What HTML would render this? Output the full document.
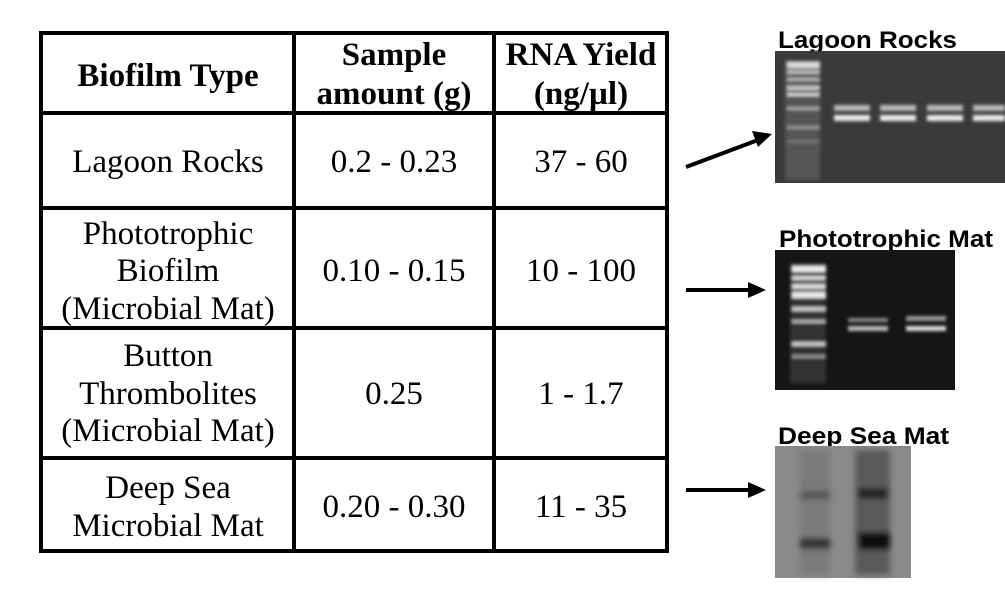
<!DOCTYPE html>
<html><head><meta charset="utf-8"><style>
html,body{margin:0;padding:0;background:#fff;}
svg{display:block}
.t{font-family:"Liberation Serif",serif;font-size:33px;fill:#000;text-anchor:middle}
.b{font-weight:bold}
.g{font-family:"Liberation Sans",sans-serif;font-weight:bold;font-size:24px;fill:#000}
</style></head><body>
<svg width="1005" height="597" viewBox="0 0 1005 597">
<defs>
<filter id="bl"><feGaussianBlur stdDeviation="1.5"/></filter>
<filter id="bl2"><feGaussianBlur stdDeviation="3"/></filter>
</defs>
<g stroke="#000" stroke-width="4" fill="none">
<rect x="41" y="33" width="626" height="518"/>
<line x1="294" y1="33" x2="294" y2="551"/>
<line x1="494" y1="33" x2="494" y2="551"/>
<line x1="41" y1="113" x2="667" y2="113"/>
<line x1="41" y1="208" x2="667" y2="208"/>
<line x1="41" y1="328" x2="667" y2="328"/>
<line x1="41" y1="458" x2="667" y2="458"/>
</g>
<text class="t b" x="168" y="86">Biofilm Type</text>
<text class="t b" x="394" y="65">Sample</text>
<text class="t b" x="394" y="104">amount (g)</text>
<text class="t b" x="581" y="65">RNA Yield</text>
<text class="t b" x="581" y="104">(ng/µl)</text>

<text class="t" x="168" y="172">Lagoon Rocks</text>
<text class="t" x="394" y="172">0.2 - 0.23</text>
<text class="t" x="581" y="172">37 - 60</text>

<text class="t" x="168" y="244">Phototrophic</text>
<text class="t" x="168" y="281">Biofilm</text>
<text class="t" x="168" y="319">(Microbial Mat)</text>
<text class="t" x="394" y="281">0.10 - 0.15</text>
<text class="t" x="581" y="281">10 - 100</text>

<text class="t" x="168" y="366">Button</text>
<text class="t" x="168" y="404">Thrombolites</text>
<text class="t" x="168" y="441">(Microbial Mat)</text>
<text class="t" x="394" y="404">0.25</text>
<text class="t" x="581" y="404">1 - 1.7</text>

<text class="t" x="168" y="498">Deep Sea</text>
<text class="t" x="168" y="536">Microbial Mat</text>
<text class="t" x="394" y="517">0.20 - 0.30</text>
<text class="t" x="581" y="517">11 - 35</text>

<g stroke="#000" stroke-width="4">
<line x1="686" y1="167" x2="758" y2="140"/>
<line x1="686" y1="290" x2="752" y2="290"/>
<line x1="686" y1="490" x2="752" y2="490"/>
</g>
<polygon points="772,134 752,131 758,147" fill="#000"/>
<polygon points="766,290 748,282 748,298" fill="#000"/>
<polygon points="766,490 748,482 748,498" fill="#000"/>

<text class="g" x="778" y="48" textLength="179" lengthAdjust="spacingAndGlyphs">Lagoon Rocks</text>
<text class="g" x="779" y="247" textLength="214" lengthAdjust="spacingAndGlyphs">Phototrophic Mat</text>
<text class="g" x="778" y="444" textLength="171" lengthAdjust="spacingAndGlyphs">Deep Sea Mat</text>

<rect x="775" y="51" width="230" height="132" fill="#3a3a3a"/>
<g filter="url(#bl)">
<rect x="785" y="60" width="35" height="120" fill="#555"/>
<rect x="787" y="62" width="33" height="6" fill="#ddd"/>
<rect x="787" y="70" width="33" height="4" fill="#bbb"/>
<rect x="787" y="78" width="33" height="3" fill="#bbb"/>
<rect x="787" y="86" width="33" height="4" fill="#ccc"/>
<rect x="787" y="93" width="33" height="3" fill="#ddd"/>
<rect x="787" y="107" width="33" height="3" fill="#aaa"/>
<rect x="787" y="126" width="33" height="3" fill="#999"/>
<rect x="787" y="140" width="33" height="3" fill="#777"/>
<rect x="834" y="105" width="36" height="6" fill="#bbb"/>
<rect x="834" y="115" width="36" height="6" fill="#eee"/>
<rect x="880" y="105" width="36" height="6" fill="#bbb"/>
<rect x="880" y="115" width="36" height="6" fill="#eee"/>
<rect x="927" y="105" width="36" height="6" fill="#bbb"/>
<rect x="927" y="115" width="36" height="6" fill="#eee"/>
<rect x="973" y="105" width="32" height="6" fill="#bbb"/>
<rect x="973" y="115" width="32" height="6" fill="#eee"/>
</g>
<rect x="775" y="250" width="180" height="140" fill="#151515"/>
<g filter="url(#bl)">
<rect x="790" y="263" width="36" height="120" fill="#333"/>
<rect x="792" y="266" width="34" height="6" fill="#eee"/>
<rect x="792" y="276" width="34" height="4" fill="#ddd"/>
<rect x="792" y="284" width="34" height="5" fill="#ddd"/>
<rect x="792" y="292" width="34" height="6" fill="#eee"/>
<rect x="792" y="307" width="34" height="4" fill="#ccc"/>
<rect x="792" y="320" width="34" height="3" fill="#bbb"/>
<rect x="792" y="342" width="34" height="4" fill="#ccc"/>
<rect x="792" y="355" width="34" height="3" fill="#999"/>
<rect x="848" y="318" width="40" height="4" fill="#888"/>
<rect x="848" y="326" width="40" height="5" fill="#bbb"/>
<rect x="906" y="316" width="40" height="5" fill="#999"/>
<rect x="906" y="326" width="40" height="5" fill="#ddd"/>
</g>
<rect x="775" y="446" width="136" height="132" fill="#8a8a8a"/>
<g filter="url(#bl2)">
<rect x="800" y="450" width="30" height="125" fill="#7a7a7a"/>
<rect x="855" y="450" width="35" height="125" fill="#5a5a5a"/>
<rect x="800" y="491" width="30" height="8" fill="#555"/>
<rect x="800" y="538" width="30" height="11" fill="#333"/>
<rect x="858" y="488" width="30" height="11" fill="#222"/>
<rect x="858" y="532" width="32" height="18" fill="#111"/>
</g>
</svg>
</body></html>
